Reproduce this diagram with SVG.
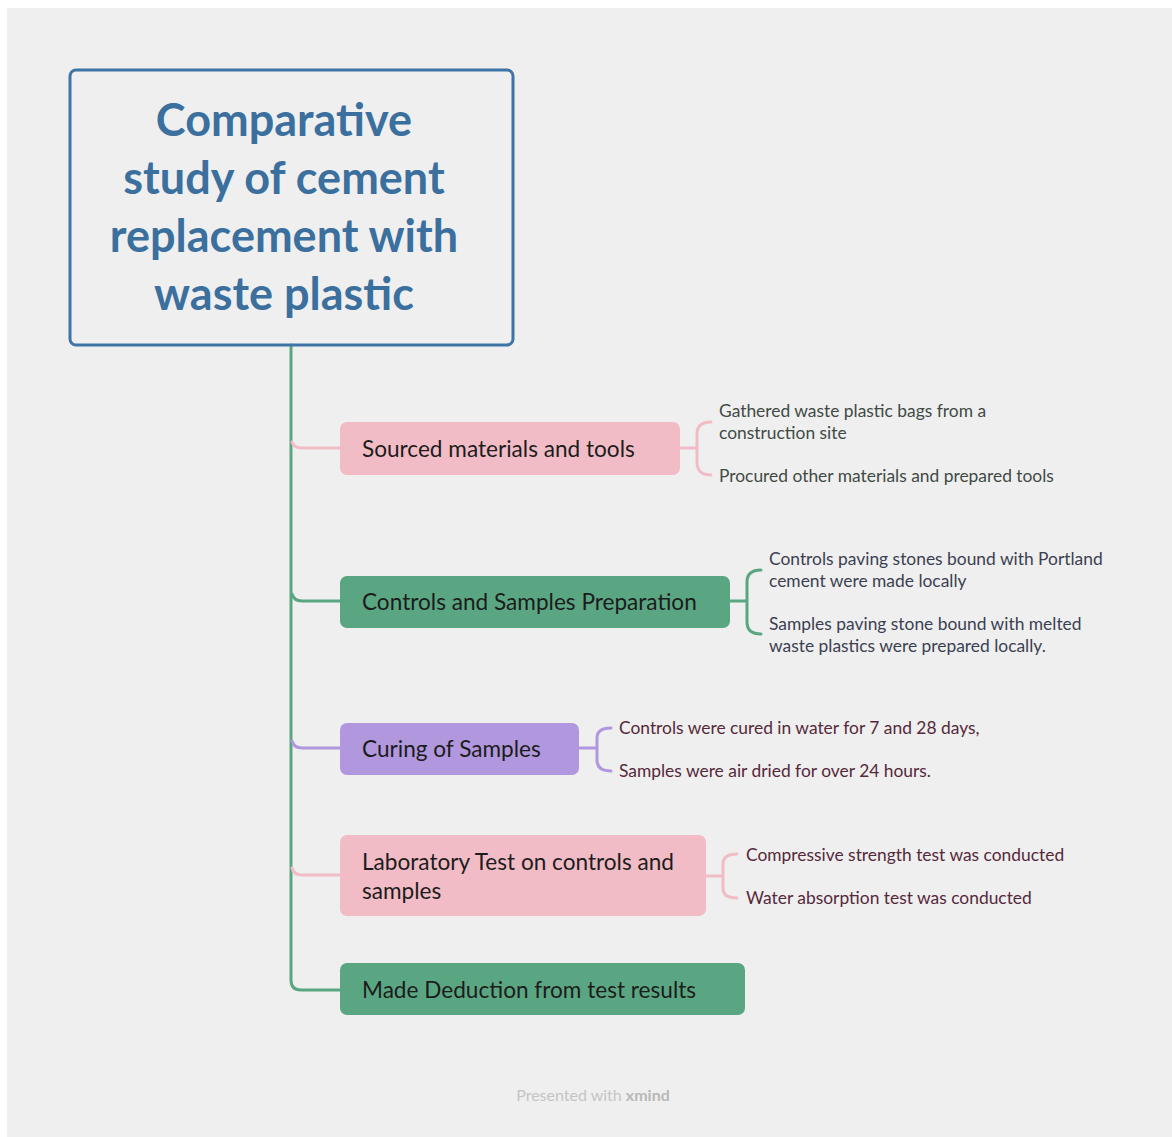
<svg xmlns="http://www.w3.org/2000/svg" width="1172" height="1137" viewBox="0 0 1172 1137">
<style>
.bg{fill:#efefef}
.title{font-family:Lato,"Liberation Sans",sans-serif;font-weight:bold;font-size:45px;fill:#3b6f9e;text-anchor:middle}
.lbl{font-family:Lato,"Liberation Sans",sans-serif;font-size:22.6px;fill:#1c1c1c}
.sub{font-family:Lato,"Liberation Sans",sans-serif;font-size:17.4px}
.c{fill:none;stroke-width:3;stroke-linecap:round;stroke-linejoin:round}
.pink{fill:#f2bcc6}.green{fill:#5ba682}.purple{fill:#b197dd}
.sp{stroke:#f2bcc6}.sg{stroke:#5ba682}.su{stroke:#b197dd}
</style>
<rect x="0" y="0" width="1172" height="1137" fill="#ffffff"/>
<rect class="bg" x="7" y="8" width="1165" height="1129"/>

<g id="connectors">
  <path class="c sg" d="M291,345 V980 Q291,990 301,990 H340"/>
  <path class="c sp" d="M292,442 Q294,448 302,448 H340"/>
  <path class="c sg" d="M292,594 Q294,601 302,601 H340"/>
  <path class="c su" d="M292,741 Q294,748 302,748 H340"/>
  <path class="c sp" d="M292,868 Q294,875 302,875 H340"/>
  <path class="c sp" d="M680,448 H697 M711,422 Q697,422 697,434 V462 Q697,475 711,475"/>
  <path class="c sg" d="M730,601 H747 M761,570 Q747,570 747,582 V622 Q747,634 761,634"/>
  <path class="c su" d="M579,748 H597 M611,728 Q597,728 597,738 V760 Q597,771 611,771"/>
  <path class="c sp" d="M706,876 H723 M737,854 Q723,854 723,864 V888 Q723,898 737,898"/>
</g>

<g id="root">
  <rect x="70" y="70" width="443" height="275" rx="6" fill="none" stroke="#3e74a6" stroke-width="3"/>
  <text class="title" x="284" y="136">Comparative</text>
  <text class="title" x="284" y="194">study of cement</text>
  <text class="title" x="284" y="252">replacement with</text>
  <text class="title" x="284" y="310">waste plastic</text>
</g>

<g id="n1">
  <rect class="pink" x="340" y="422" width="340" height="53" rx="7"/>
  <text class="lbl" x="362" y="457">Sourced materials and tools</text>
</g>
<g id="n1a"><text class="sub" fill="#3f4a44" x="719" y="417">Gathered waste plastic bags from a</text><text class="sub" fill="#3f4a44" x="719" y="439">construction site</text></g>
<g id="n1b"><text class="sub" fill="#3f4a44" x="719" y="482">Procured other materials and prepared tools</text></g>

<g id="n2">
  <rect class="green" x="340" y="576" width="390" height="52" rx="7"/>
  <text class="lbl" x="362" y="610">Controls and Samples Preparation</text>
</g>
<g id="n2a"><text class="sub" fill="#3b3f52" x="769" y="565">Controls paving stones bound with Portland</text><text class="sub" fill="#3b3f52" x="769" y="587">cement were made locally</text></g>
<g id="n2b"><text class="sub" fill="#3b3f52" x="769" y="630">Samples paving stone bound with melted</text><text class="sub" fill="#3b3f52" x="769" y="652">waste plastics were prepared locally.</text></g>

<g id="n3">
  <rect class="purple" x="340" y="723" width="239" height="52" rx="7"/>
  <text class="lbl" x="362" y="757">Curing of Samples</text>
</g>
<g id="n3a"><text class="sub" fill="#55293a" x="619" y="734">Controls were cured in water for 7 and 28 days,</text></g>
<g id="n3b"><text class="sub" fill="#55293a" x="619" y="777">Samples were air dried for over 24 hours.</text></g>

<g id="n4">
  <rect class="pink" x="340" y="835" width="366" height="81" rx="7"/>
  <text class="lbl" x="362" y="870">Laboratory Test on controls and</text>
  <text class="lbl" x="362" y="899">samples</text>
</g>
<g id="n4a"><text class="sub" fill="#55293a" x="746" y="861">Compressive strength test was conducted</text></g>
<g id="n4b"><text class="sub" fill="#55293a" x="746" y="904">Water absorption test was conducted</text></g>

<g id="n5">
  <rect class="green" x="340" y="963" width="405" height="52" rx="7"/>
  <text class="lbl" x="362" y="998">Made Deduction from test results</text>
</g>

<text x="593" y="1101" text-anchor="middle" font-family="Lato,'Liberation Sans',sans-serif" font-size="16" fill="#c4c4c4">Presented with <tspan font-weight="bold" fill="#b8b8b8">xmind</tspan></text>
</svg>
